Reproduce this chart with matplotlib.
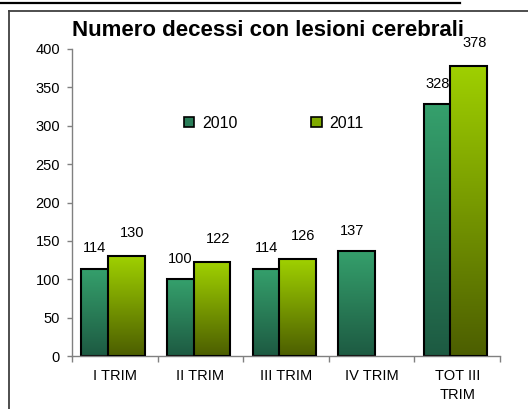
import numpy as np
import matplotlib
matplotlib.use("Agg")
import matplotlib.pyplot as plt
from matplotlib.colors import LinearSegmentedColormap
from matplotlib.lines import Line2D
from matplotlib.patches import Patch

plt.rcParams["font.family"] = ["Liberation Sans", "DejaVu Sans"]

# data
categories = ["I TRIM", "II TRIM", "III TRIM", "IV TRIM", "TOT III\nTRIM"]
v2010 = [114, 100, 114, 137, 328]
v2011 = [130, 122, 126, np.nan, 378]
series_names = ["2010", "2011"]

# gradient colours (top, bottom)
c2010 = ("#35a06c", "#1d5a42")
c2011 = ("#9fd000", "#4c5e00")

fig = plt.figure(figsize=(5.28, 4.09), dpi=100)
ax = fig.add_axes([72 / 528, 1 - 356 / 409, 428 / 528, 307 / 409])

x = np.arange(len(categories))
w = 0.43
off = [-0.175, 0.135]


def grad_bar(xc, h, colors, z):
    bar = ax.bar(xc, h, w, facecolor="none", edgecolor="black",
                 linewidth=1.5, zorder=z + 0.1)[0]
    cmap = LinearSegmentedColormap.from_list("g", [colors[1], colors[0]])
    img = ax.imshow(np.linspace(0, 1, 128).reshape(-1, 1),
                    extent=[xc - w / 2, xc + w / 2, 0, h], origin="lower",
                    aspect="auto", cmap=cmap, zorder=z)
    img.set_clip_path(bar)


for vals, cols, o, z, dx, dy in [(v2010, c2010, off[0], 2, -3.6, 14.5),
                                 (v2011, c2011, off[1], 3, 4.3, 16.5)]:
    for xi, v in zip(x, vals):
        if np.isnan(v):
            continue
        grad_bar(xi + o, v, cols, z)
        ax.annotate(f"{v:g}", (xi + o, v), xytext=(dx, dy),
                    textcoords="offset points", ha="center", va="center",
                    fontsize=10.5)

ax.set_xlim(-0.5, len(categories) - 0.5)
ax.set_ylim(0, 400)
ax.set_yticks(range(0, 401, 50))
ax.tick_params(axis="y", direction="out", length=3.6, width=1, color="#808080",
               labelsize=10.5, pad=5)
ax.set_xticks(x)
ax.set_xticklabels(categories, fontsize=10.5, linespacing=1.5)
ax.set_xticks(np.arange(-0.5, len(categories)), minor=True)
ax.tick_params(axis="x", which="major", length=0, pad=9)
ax.tick_params(axis="x", which="minor", direction="out", length=4, width=1,
               color="#808080")
for s in ["top", "right"]:
    ax.spines[s].set_visible(False)
for s in ["left", "bottom"]:
    ax.spines[s].set_color("#808080")
    ax.spines[s].set_linewidth(1)
ax.set_facecolor("none")

fig.text(268 / 528, 1 - 30 / 409, "Numero decessi con lesioni cerebrali",
         ha="center", va="center", fontsize=16, fontweight="bold")

handles = [Patch(facecolor="#2a7d58", edgecolor="black", linewidth=1.2),
           Patch(facecolor="#80ab00", edgecolor="black", linewidth=1.2)]
fig.legend(handles, series_names, loc="center", ncol=2, frameon=False,
           bbox_to_anchor=(274 / 528, 1 - 123 / 409), fontsize=11.5,
           handlelength=0.65, handleheight=0.65, handletextpad=0.5,
           columnspacing=4.6)

# outer frame and top rule
fig.add_artist(Line2D([0, 460 / 528], [1 - 3 / 409] * 2, color="black", lw=1.6))
fig.add_artist(Line2D([9 / 528, 9 / 528], [0, 1 - 11 / 409], color="#404040", lw=1.3))
fig.add_artist(Line2D([9 / 528, 1], [1 - 11 / 409] * 2, color="#404040", lw=1.3))

fig.savefig("out.png", dpi=100)
